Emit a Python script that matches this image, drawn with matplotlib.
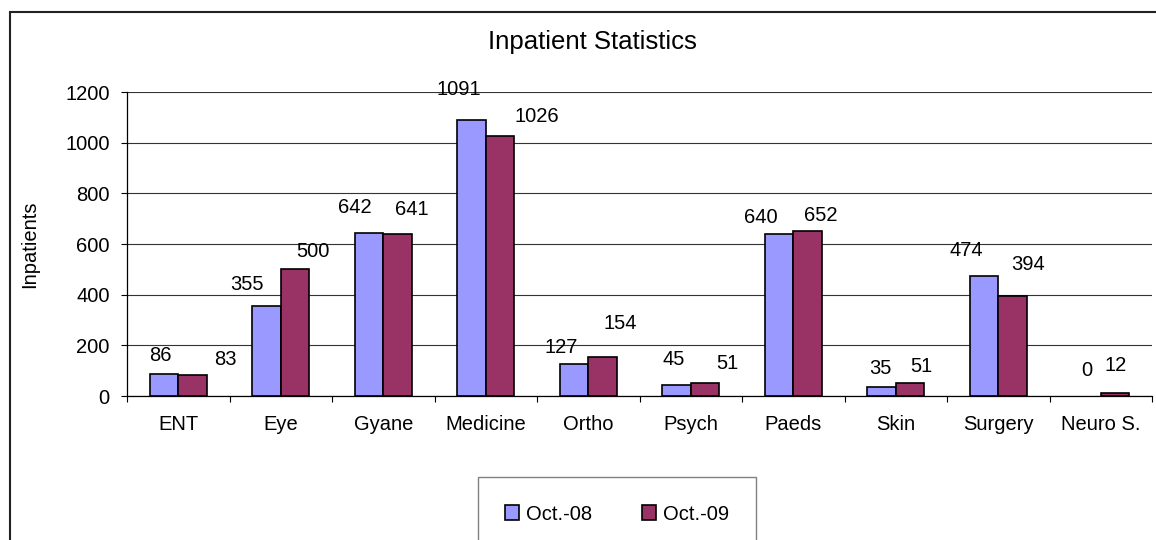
import matplotlib
matplotlib.use("Agg")
import numpy as np
import matplotlib.pyplot as plt
from matplotlib.patches import Rectangle

plt.rcParams['font.family'] = ['Liberation Sans', 'DejaVu Sans']

departments = ["ENT", "Eye", "Gyane", "Medicine", "Ortho", "Psych",
               "Paeds", "Skin", "Surgery", "Neuro S."]
oct_08 = [86, 355, 642, 1091, 127, 45, 640, 35, 474, 0]
oct_09 = [83, 500, 641, 1026, 154, 51, 652, 51, 394, 12]
series_names = ["Oct.-08", "Oct.-09"]

# label nudges in pixels (dx, dy above bar top), copied from the hand-placed labels
nudge_08 = [(-4, 19), (-19, 22), (-14, 26), (-13, 30), (-13, 16),
            (-3, 25), (-18, 16), (-1, 19), (-18, 25), (0, 25)]
nudge_09 = [(33, 15), (18, 18), (14, 24), (37, 20), (18, 33),
            (22, 20), (13, 15), (11, 17), (15, 32), (1, 27)]

fs = 14.5
fig = plt.figure(figsize=(11.56, 5.4), dpi=100)
ax = fig.add_axes([127/1156, 1-396/540, 1025/1156, 304/540])

x = np.arange(len(departments))
w = 0.28
b1 = ax.bar(x - w/2, oct_08, w, color='#9999FF', edgecolor='black', linewidth=1.2,
            label=series_names[0], zorder=3)
b2 = ax.bar(x + w/2, oct_09, w, color='#993366', edgecolor='black', linewidth=1.2,
            label=series_names[1], zorder=3)

for bars, vals, nudges in ((b1, oct_08, nudge_08), (b2, oct_09, nudge_09)):
    for r, v, (dx, dy) in zip(bars, vals, nudges):
        if v == 0:
            r.set_linewidth(0)  # excel draws nothing for a zero bar
        ax.annotate(str(v), (r.get_x() + r.get_width()/2, v),
                    xytext=(dx, dy), textcoords='offset pixels',
                    ha='center', va='center', fontsize=fs, zorder=4)

ax.set_xlim(-0.5, len(departments) - 0.5)
ax.set_ylim(0, 1200)
ax.set_yticks(range(0, 1201, 200))
ax.yaxis.grid(True, color='#333333', linewidth=0.8, zorder=0)
ax.set_xticks(x)
ax.set_xticklabels(departments)
ax.set_xticks(np.arange(-0.5, len(departments)), minor=True)
ax.tick_params(axis='x', which='major', length=0, pad=14, labelsize=fs)
ax.tick_params(axis='x', which='minor', length=4.3, width=0.8, direction='out')
ax.tick_params(axis='y', length=4, width=0.8, pad=8.5, labelsize=fs)
for s in ('top', 'right'):
    ax.spines[s].set_visible(False)
for s in ('left', 'bottom'):
    ax.spines[s].set_linewidth(0.9)
    ax.spines[s].set_zorder(5)

ax.set_ylabel('Inpatients', fontsize=fs)
ax.yaxis.set_label_coords(-0.0859, 0.5)

fig.text(592/1156, 1-49/540, 'Inpatient Statistics', fontsize=18.5,
         ha='center', va='baseline')

leg = fig.legend(handles=[b1, b2], labels=series_names, loc='center',
                 bbox_to_anchor=(617/1156, 1-514/540), ncol=2, fontsize=fs,
                 handlelength=0.7, handleheight=0.7, handletextpad=0.35,
                 columnspacing=2.45, borderpad=1.35, fancybox=False,
                 framealpha=1, edgecolor='#808080')
leg.get_frame().set_linewidth(1.0)

# chart area border (cropped on the right and bottom)
fig.patches.append(Rectangle((10/1156, -0.1), 1.2, 1.1 - 12/540,
                             transform=fig.transFigure, fill=False,
                             edgecolor='#222222', linewidth=1.5))

plt.savefig('out.png', dpi=100)
